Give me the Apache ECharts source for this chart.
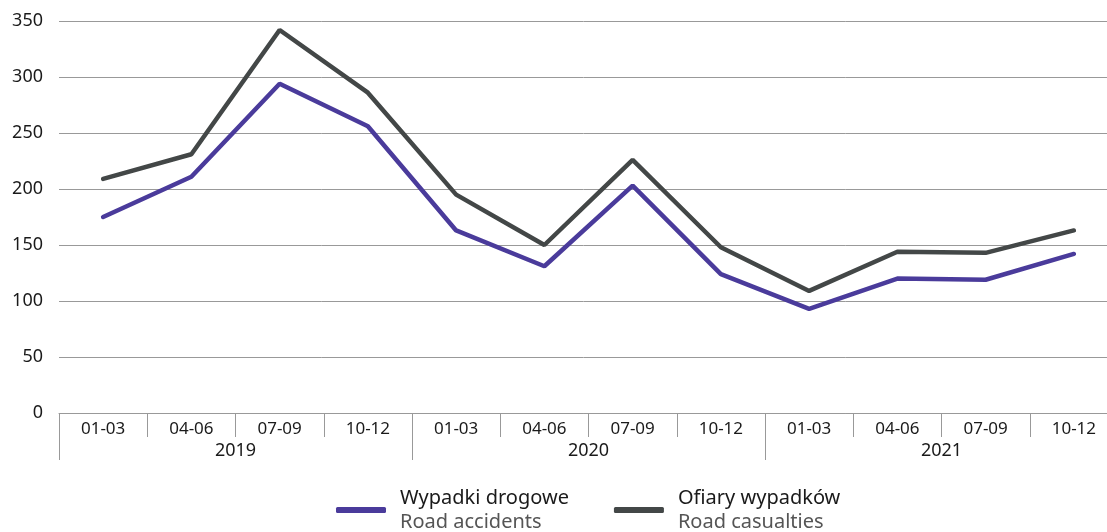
<!DOCTYPE html>
<html>
<head>
<meta charset="utf-8">
<script src="https://cdn.jsdelivr.net/npm/echarts@6/dist/echarts.min.js"></script>
<style>html,body{margin:0;padding:0;background:#fff}#c{width:1107px;height:532px}</style>
</head>
<body>
<div id="c"></div>
<script>
const quarters = ['01-03','04-06','07-09','10-12','01-03','04-06','07-09','10-12','01-03','04-06','07-09','10-12'];
const years = ['2019','2020','2021'];
const accidents = [175, 211, 294, 256, 163, 131, 203, 124, 93, 120, 119, 142];
const casualties = [209, 231, 342, 286, 195, 150, 226, 148, 109, 144, 143, 163];
const seriesNames = ['Wypadki drogowe\nRoad accidents', 'Ofiary wypadków\nRoad casualties'];
const yTicks = {min: 0, max: 350, interval: 50};

const FONT = 'Noto Sans';
const chart = echarts.init(document.getElementById('c'), null, {renderer: 'canvas'});
chart.setOption({
  animation: false,
  textStyle: {fontFamily: FONT},
  grid: {left: 59, width: 1059, top: 21, bottom: 119, containLabel: false, outerBoundsMode: 'none'},
  legend: {
    left: 331, bottom: -5,
    itemWidth: 50, itemHeight: 6, itemGap: 45,
    icon: 'roundRect',
    data: seriesNames,
    formatter: function (n) {
      const p = n.split('\n');
      return '{a|' + p[0] + '}\n{b|' + p[1] + '}';
    },
    textStyle: {
      padding: [0, 0, 0, 9],
      rich: {
        a: {fontFamily: FONT, fontSize: 20, color: '#1a1a1a', lineHeight: 24},
        b: {fontFamily: FONT, fontSize: 20, color: '#555555', lineHeight: 24}
      }
    }
  },
  xAxis: [
    {
      type: 'category', data: quarters, position: 'bottom', boundaryGap: true,
      axisLine: {show: true, lineStyle: {color: '#999999', width: 1}},
      axisTick: {show: true, interval: 0, length: 24, lineStyle: {color: '#999999'}},
      axisLabel: {interval: 0, margin: 8, fontSize: 17, color: '#1a1a1a', fontFamily: FONT},
      splitLine: {show: false}
    },
    {
      type: 'category', data: years, position: 'bottom', boundaryGap: true,
      axisLine: {show: false},
      axisTick: {show: true, interval: 0, length: 47, lineStyle: {color: '#999999'}},
      axisLabel: {interval: 0, margin: 29, fontSize: 18, color: '#1a1a1a', fontFamily: FONT},
      splitLine: {show: false}
    }
  ],
  yAxis: {
    type: 'value', min: yTicks.min, max: yTicks.max, interval: yTicks.interval,
    axisLine: {show: false}, axisTick: {show: false},
    axisLabel: {margin: 16, fontSize: 18, color: '#1a1a1a', fontFamily: FONT},
    splitLine: {show: true, lineStyle: {color: '#999999', width: 1}}
  },
  series: [
    {
      name: seriesNames[0], type: 'line', data: accidents, xAxisIndex: 0,
      symbol: 'none', color: '#4a3b9b',
      lineStyle: {width: 4.5, color: '#4a3b9b', cap: 'round'}
    },
    {
      name: seriesNames[1], type: 'line', data: casualties, xAxisIndex: 0,
      symbol: 'none', color: '#434747',
      lineStyle: {width: 4.5, color: '#434747', cap: 'round'}
    }
  ]
});
</script>
</body>
</html>
